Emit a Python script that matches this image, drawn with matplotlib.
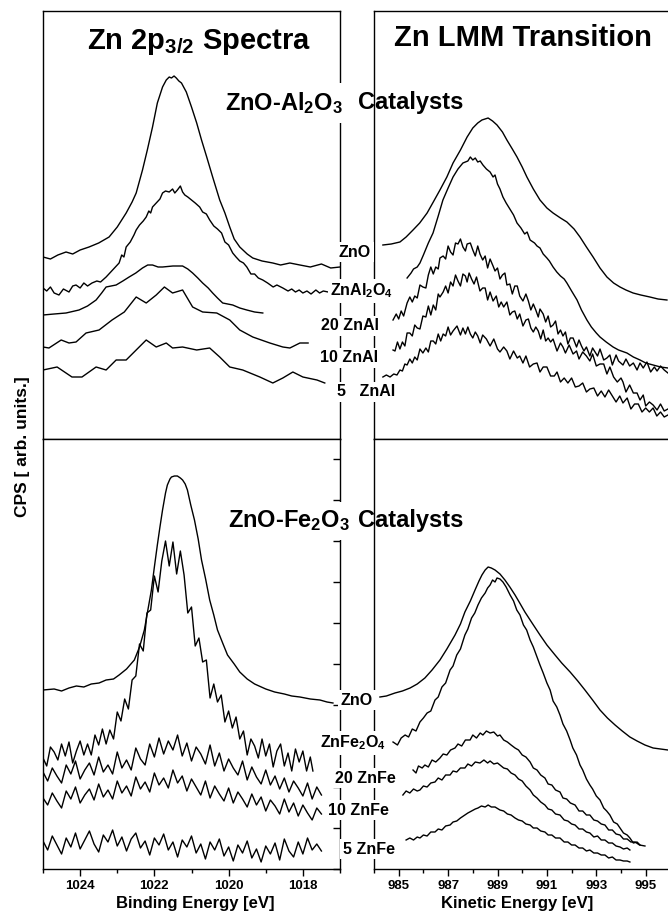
import matplotlib
matplotlib.use("Agg")
import matplotlib.pyplot as plt
from matplotlib.ticker import MultipleLocator, FixedLocator, NullLocator

plt.rcParams.update({
    "font.family": ["Liberation Sans", "DejaVu Sans"],
    "font.weight": "bold",
    "mathtext.fontset": "custom",
    "mathtext.rm": "Liberation Sans:bold",
    "mathtext.bf": "Liberation Sans:bold",
    "mathtext.it": "Liberation Sans:bold",
    "mathtext.default": "bf",
    "axes.linewidth": 1.0,
})

# ---------------- Zn 2p3/2, ZnO-Al2O3 series: (binding energy eV, counts) ----------------
al_2p_zno = [(1025.0, 182), (1024.8, 180), (1024.6, 184), (1024.38, 187), (1024.2, 185), (1024.0, 189),
             (1023.76, 192), (1023.5, 196), (1023.22, 202), (1023.0, 212), (1022.76, 226), (1022.6, 237),
             (1022.49, 246), (1022.32, 269), (1022.19, 289), (1022.05, 312), (1021.92, 336), (1021.78, 352),
             (1021.68, 359), (1021.6, 362), (1021.54, 361), (1021.47, 363), (1021.41, 361), (1021.34, 358),
             (1021.27, 356), (1021.14, 347), (1021.0, 332), (1020.86, 316), (1020.73, 299), (1020.59, 282),
             (1020.43, 262), (1020.24, 239), (1020.1, 226), (1019.97, 212), (1019.85, 200), (1019.7, 192),
             (1019.5, 185), (1019.35, 181), (1019.1, 178), (1018.81, 176), (1018.6, 174), (1018.35, 176),
             (1018.08, 174), (1017.8, 172), (1017.5, 175), (1017.25, 171), (1017.0, 172)]
al_2p_znal2o4 = [(1025.0, 151), (1024.9, 148), (1024.8, 152), (1024.7, 146), (1024.57, 144), (1024.45, 150),
                 (1024.3, 147), (1024.2, 153), (1024.11, 154), (1024.0, 151), (1023.9, 156), (1023.8, 153),
                 (1023.68, 156), (1023.55, 158), (1023.45, 157), (1023.3, 162), (1023.2, 166), (1023.1, 170),
                 (1022.95, 176), (1022.88, 184), (1022.82, 182), (1022.76, 192), (1022.65, 197), (1022.55, 204),
                 (1022.49, 209), (1022.4, 214), (1022.3, 218), (1022.22, 222), (1022.15, 228), (1022.1, 226),
                 (1022.05, 232), (1021.95, 236), (1021.85, 240), (1021.78, 246), (1021.7, 248), (1021.6, 247),
                 (1021.51, 250), (1021.45, 246), (1021.38, 249), (1021.3, 253), (1021.24, 247), (1021.18, 244),
                 (1021.1, 242), (1021.0, 239), (1020.9, 236), (1020.78, 232), (1020.7, 227), (1020.6, 225),
                 (1020.51, 219), (1020.4, 213), (1020.3, 210), (1020.19, 206), (1020.1, 197), (1020.0, 194),
                 (1019.89, 186), (1019.8, 182), (1019.7, 178), (1019.6, 176), (1019.51, 172), (1019.4, 165),
                 (1019.3, 165), (1019.2, 161), (1019.08, 159), (1018.95, 156), (1018.8, 152), (1018.7, 154),
                 (1018.54, 151), (1018.4, 148), (1018.3, 150), (1018.2, 147), (1018.1, 149), (1018.0, 146),
                 (1017.89, 148), (1017.78, 145), (1017.65, 149), (1017.55, 146), (1017.45, 148), (1017.32, 147)]
al_2p_20 = [(1025.0, 124), (1024.7, 125), (1024.38, 126), (1024.03, 129), (1023.8, 133), (1023.57, 139),
            (1023.42, 146), (1023.3, 152), (1023.03, 154), (1022.85, 158), (1022.68, 162), (1022.5, 166),
            (1022.32, 171), (1022.18, 174), (1022.05, 174), (1021.9, 172), (1021.78, 172), (1021.5, 173),
            (1021.24, 173), (1021.1, 170), (1020.97, 166), (1020.83, 161), (1020.7, 156), (1020.55, 151),
            (1020.43, 146), (1020.3, 141), (1020.16, 136), (1019.89, 134), (1019.7, 131), (1019.51, 129),
            (1019.3, 127), (1019.08, 126)]
al_2p_10 = [(1025.0, 92), (1024.84, 91), (1024.51, 99), (1024.3, 96), (1024.11, 97), (1023.84, 106),
            (1023.49, 109), (1023.14, 119), (1022.81, 127), (1022.49, 142), (1022.22, 136), (1021.95, 144),
            (1021.73, 152), (1021.51, 146), (1021.24, 149), (1020.97, 132), (1020.7, 127), (1020.32, 126),
            (1019.97, 119), (1019.7, 109), (1019.35, 102), (1018.89, 96), (1018.54, 92), (1018.35, 91),
            (1018.08, 96), (1017.86, 96)]
al_2p_5 = [(1025.0, 69), (1024.62, 72), (1024.22, 62), (1023.95, 62), (1023.57, 72), (1023.3, 69),
           (1023.03, 79), (1022.76, 79), (1022.49, 89), (1022.22, 99), (1021.95, 92), (1021.68, 96),
           (1021.51, 91), (1021.24, 92), (1020.86, 89), (1020.51, 91), (1020.24, 82), (1019.97, 72),
           (1019.62, 69), (1019.16, 62), (1018.81, 56), (1018.54, 61), (1018.27, 67), (1018.0, 62),
           (1017.62, 59), (1017.41, 56)]

# ---------------- Zn LMM, ZnO-Al2O3 series: (kinetic energy eV, counts) ----------------
al_lmm_zno = [(984.36, 194), (984.7, 195), (985.05, 197), (985.3, 202), (985.58, 209), (985.85, 216),
              (986.15, 226), (986.4, 237), (986.67, 249), (986.95, 262), (987.2, 276), (987.5, 289),
              (987.77, 302), (988.0, 311), (988.2, 316), (988.37, 319), (988.62, 321), (988.8, 318),
              (988.98, 314), (989.2, 307), (989.38, 299), (989.6, 290), (989.79, 282), (990.0, 272),
              (990.19, 262), (990.45, 250), (990.72, 239), (991.0, 231), (991.25, 226), (991.55, 221),
              (991.81, 217), (992.1, 210), (992.34, 202), (992.6, 192), (992.87, 182), (993.15, 171),
              (993.43, 162), (993.7, 156), (993.96, 152), (994.2, 149), (994.49, 146), (994.8, 144),
              (995.17, 142), (995.5, 140), (995.86, 139)]
al_lmm_znal2o4 = [(985.34, 161), (985.5, 166), (985.6, 170), (985.75, 172), (985.86, 176), (986.0, 184),
                  (986.2, 196), (986.39, 206), (986.6, 223), (986.79, 239), (987.0, 251), (987.2, 262),
                  (987.4, 270), (987.6, 276), (987.8, 278), (987.9, 282), (988.0, 279), (988.1, 281),
                  (988.2, 277), (988.3, 278), (988.41, 274), (988.55, 270), (988.7, 267), (988.82, 262),
                  (988.9, 264), (989.0, 255), (989.1, 250), (989.22, 242), (989.35, 236), (989.5, 230),
                  (989.65, 224), (989.79, 216), (989.95, 211), (990.1, 205), (990.2, 207), (990.32, 199),
                  (990.5, 196), (990.6, 193), (990.72, 191), (990.85, 185), (991.0, 181), (991.1, 178),
                  (991.25, 172), (991.4, 167), (991.55, 163), (991.7, 160), (991.81, 156), (992.0, 148),
                  (992.22, 139), (992.4, 129), (992.62, 119), (992.8, 112), (993.0, 106), (993.15, 102),
                  (993.4, 97), (993.68, 92), (993.9, 89), (994.24, 86), (994.5, 82), (994.77, 79),
                  (995.0, 76), (995.3, 74), (995.6, 72), (995.9, 71)]
al_lmm_20 = [(984.77, 119), (984.9, 125), (985.0, 120), (985.1, 128), (985.2, 123), (985.34, 136), (985.45, 142),
             (985.55, 137), (985.65, 143), (985.75, 141), (985.86, 154), (985.98, 152), (986.1, 151), (986.2, 164),
             (986.3, 172), (986.4, 165), (986.5, 172), (986.6, 170), (986.67, 181), (986.8, 183), (986.9, 180),
             (987.0, 193), (987.1, 187), (987.2, 184), (987.3, 196), (987.4, 195), (987.5, 200), (987.6, 192),
             (987.7, 188), (987.77, 195), (987.9, 196), (988.0, 189), (988.1, 183), (988.2, 193), (988.29, 185),
             (988.4, 179), (988.5, 183), (988.6, 171), (988.7, 180), (988.82, 173), (988.9, 168), (989.0, 171),
             (989.1, 160), (989.2, 164), (989.3, 166), (989.38, 154), (989.5, 155), (989.6, 145), (989.7, 153),
             (989.8, 153), (989.9, 143), (990.03, 138), (990.15, 145), (990.25, 138), (990.35, 129), (990.45, 135),
             (990.55, 129), (990.65, 122), (990.72, 130), (990.85, 125), (990.95, 117), (991.05, 123), (991.15, 112),
             (991.25, 114), (991.35, 118), (991.45, 105), (991.55, 109), (991.65, 103), (991.75, 107), (991.85, 95),
             (991.95, 101), (992.06, 101), (992.2, 92), (992.3, 99), (992.4, 93), (992.5, 88), (992.6, 92),
             (992.74, 83), (992.85, 91), (992.95, 87), (993.05, 83), (993.15, 90), (993.3, 79), (993.43, 81),
             (993.55, 84), (993.65, 74), (993.8, 84), (993.9, 78), (994.08, 74), (994.2, 80), (994.35, 73),
             (994.5, 76), (994.65, 69), (994.77, 76), (994.9, 71), (995.05, 77), (995.2, 67), (995.35, 72),
             (995.46, 68), (995.6, 73), (995.75, 69), (995.9, 66)]
al_lmm_10 = [(984.77, 89), (984.85, 88), (984.95, 97), (985.05, 90), (985.15, 97), (985.25, 93), (985.34, 106),
             (985.45, 106), (985.55, 103), (985.65, 114), (985.75, 111), (985.86, 110), (985.98, 123), (986.1, 122),
             (986.2, 133), (986.3, 124), (986.4, 134), (986.5, 129), (986.6, 145), (986.67, 142), (986.8, 147),
             (986.9, 153), (987.0, 146), (987.1, 157), (987.2, 153), (987.3, 164), (987.4, 158), (987.5, 153),
             (987.6, 165), (987.7, 163), (987.77, 157), (987.85, 166), (987.95, 160), (988.05, 155), (988.15, 162),
             (988.29, 148), (988.4, 151), (988.5, 151), (988.6, 139), (988.7, 147), (988.82, 138), (988.95, 143),
             (989.05, 132), (989.15, 137), (989.25, 132), (989.38, 137), (989.5, 124), (989.6, 127), (989.7, 128),
             (989.8, 120), (989.9, 125), (990.03, 113), (990.15, 119), (990.25, 120), (990.35, 111), (990.45, 107),
             (990.55, 112), (990.65, 108), (990.75, 100), (990.85, 109), (990.95, 98), (991.05, 101), (991.15, 97),
             (991.25, 100), (991.41, 88), (991.55, 96), (991.65, 92), (991.75, 86), (991.9, 94), (992.06, 85),
             (992.2, 88), (992.3, 80), (992.45, 87), (992.6, 83), (992.74, 78), (992.85, 85), (993.0, 73),
             (993.15, 75), (993.3, 75), (993.43, 65), (993.55, 72), (993.7, 62), (993.85, 57), (994.0, 61),
             (994.08, 57), (994.2, 47), (994.35, 54), (994.5, 46), (994.65, 46), (994.77, 39), (994.9, 44),
             (995.0, 33), (995.15, 37), (995.3, 34), (995.46, 29), (995.6, 35), (995.75, 28), (995.9, 30)]
al_lmm_5 = [(984.36, 62), (984.5, 64), (984.65, 62), (984.8, 65), (984.93, 64), (985.05, 69), (985.15, 68),
            (985.25, 75), (985.34, 74), (985.45, 80), (985.55, 76), (985.65, 82), (985.75, 79), (985.86, 90),
            (985.98, 86), (986.1, 91), (986.2, 87), (986.3, 98), (986.4, 98), (986.5, 95), (986.6, 105),
            (986.7, 98), (986.8, 105), (986.9, 103), (987.0, 112), (987.1, 104), (987.2, 108), (987.36, 113),
            (987.5, 104), (987.6, 111), (987.7, 105), (987.8, 112), (987.9, 105), (988.0, 101), (988.1, 107),
            (988.2, 103), (988.3, 96), (988.4, 104), (988.55, 100), (988.7, 93), (988.85, 100), (989.0, 90),
            (989.1, 87), (989.25, 92), (989.38, 88), (989.5, 80), (989.65, 88), (989.8, 81), (989.9, 83),
            (990.03, 76), (990.15, 83), (990.3, 72), (990.45, 75), (990.6, 76), (990.72, 67), (990.85, 72),
            (991.0, 72), (991.15, 63), (991.3, 63), (991.41, 67), (991.55, 57), (991.7, 61), (991.85, 56),
            (992.0, 61), (992.15, 52), (992.3, 53), (992.45, 56), (992.6, 47), (992.74, 50), (992.9, 51),
            (993.05, 43), (993.2, 48), (993.35, 42), (993.5, 49), (993.65, 43), (993.8, 37), (993.95, 43),
            (994.08, 36), (994.25, 41), (994.4, 30), (994.55, 35), (994.7, 35), (994.85, 27), (995.0, 31),
            (995.15, 27), (995.3, 31), (995.45, 23), (995.6, 27), (995.75, 22), (995.9, 24)]

# ---------------- Zn 2p3/2, ZnO-Fe2O3 series ----------------
fe_2p_zno = [(1025.0, 179), (1024.7, 180), (1024.5, 178), (1024.3, 181), (1024.1, 183), (1023.9, 182),
             (1023.7, 185), (1023.49, 186), (1023.3, 189), (1023.1, 190), (1022.95, 194), (1022.75, 200),
             (1022.54, 209), (1022.4, 222), (1022.27, 239), (1022.18, 258), (1022.08, 279), (1022.0, 302),
             (1021.92, 324), (1021.85, 342), (1021.78, 359), (1021.7, 376), (1021.65, 384), (1021.58, 390),
             (1021.54, 392), (1021.46, 393), (1021.38, 393), (1021.3, 391), (1021.24, 389), (1021.17, 385),
             (1021.11, 379), (1021.02, 364), (1020.92, 349), (1020.82, 330), (1020.73, 309), (1020.62, 290),
             (1020.51, 269), (1020.4, 254), (1020.3, 239), (1020.15, 225), (1020.03, 214), (1019.85, 205),
             (1019.7, 197), (1019.5, 190), (1019.3, 185), (1019.0, 180), (1018.76, 177), (1018.5, 175),
             (1018.3, 173), (1018.08, 172), (1017.8, 170), (1017.54, 169), (1017.35, 167), (1017.19, 166)]
fe_2p_znfe2o4 = [(1025.0, 111), (1024.9, 103), (1024.8, 122), (1024.7, 117), (1024.6, 109), (1024.5, 125),
                 (1024.4, 113), (1024.3, 127), (1024.2, 106), (1024.1, 118), (1024.0, 128), (1023.9, 114),
                 (1023.8, 125), (1023.7, 114), (1023.6, 134), (1023.5, 124), (1023.4, 140), (1023.3, 125),
                 (1023.2, 139), (1023.1, 130), (1023.0, 157), (1022.9, 148), (1022.8, 170), (1022.7, 160),
                 (1022.6, 189), (1022.5, 193), (1022.4, 225), (1022.3, 218), (1022.2, 256), (1022.1, 259),
                 (1022.0, 293), (1021.9, 277), (1021.8, 308), (1021.7, 328), (1021.6, 303), (1021.5, 327),
                 (1021.4, 295), (1021.3, 318), (1021.2, 294), (1021.1, 256), (1021.0, 262), (1020.9, 223),
                 (1020.8, 231), (1020.7, 207), (1020.6, 209), (1020.5, 171), (1020.4, 185), (1020.3, 167),
                 (1020.2, 174), (1020.1, 147), (1020.0, 158), (1019.9, 141), (1019.8, 152), (1019.7, 130),
                 (1019.6, 138), (1019.5, 114), (1019.4, 130), (1019.3, 123), (1019.2, 111), (1019.1, 130),
                 (1019.0, 113), (1018.9, 125), (1018.8, 102), (1018.7, 118), (1018.6, 125), (1018.5, 103),
                 (1018.4, 116), (1018.3, 98), (1018.2, 120), (1018.1, 107), (1018.0, 118), (1017.9, 98),
                 (1017.8, 112), (1017.73, 98)]
fe_2p_20 = [(1025.0, 97), (1024.875, 88), (1024.75, 101), (1024.625, 93), (1024.5, 86), (1024.375, 104),
            (1024.25, 95), (1024.125, 108), (1024.0, 90), (1023.875, 99), (1023.75, 106), (1023.625, 94),
            (1023.5, 112), (1023.375, 97), (1023.25, 104), (1023.125, 95), (1023.0, 117), (1022.875, 101),
            (1022.75, 109), (1022.625, 99), (1022.5, 121), (1022.375, 110), (1022.25, 104), (1022.125, 125),
            (1022.0, 112), (1021.875, 131), (1021.75, 115), (1021.625, 128), (1021.5, 119), (1021.375, 134),
            (1021.25, 113), (1021.125, 126), (1021.0, 108), (1020.875, 122), (1020.75, 115), (1020.625, 105),
            (1020.5, 124), (1020.375, 103), (1020.25, 116), (1020.125, 98), (1020.0, 110), (1019.875, 101),
            (1019.75, 94), (1019.625, 108), (1019.5, 89), (1019.375, 102), (1019.25, 92), (1019.125, 85),
            (1019.0, 99), (1018.875, 84), (1018.75, 93), (1018.625, 80), (1018.5, 91), (1018.375, 77),
            (1018.25, 88), (1018.125, 81), (1018.0, 73), (1017.875, 86), (1017.75, 70), (1017.625, 82),
            (1017.5, 74)]
fe_2p_10 = [(1025.0, 71), (1024.875, 64), (1024.75, 76), (1024.625, 68), (1024.5, 61), (1024.375, 78),
            (1024.25, 70), (1024.125, 82), (1024.0, 66), (1023.875, 74), (1023.75, 80), (1023.625, 69),
            (1023.5, 85), (1023.375, 72), (1023.25, 79), (1023.125, 70), (1023.0, 88), (1022.875, 76),
            (1022.75, 83), (1022.625, 73), (1022.5, 92), (1022.375, 80), (1022.25, 87), (1022.125, 77),
            (1022.0, 96), (1021.875, 84), (1021.75, 91), (1021.625, 81), (1021.5, 99), (1021.375, 86),
            (1021.25, 93), (1021.125, 78), (1021.0, 90), (1020.875, 82), (1020.75, 74), (1020.625, 88),
            (1020.5, 71), (1020.375, 83), (1020.25, 75), (1020.125, 68), (1020.0, 81), (1019.875, 66),
            (1019.75, 77), (1019.625, 70), (1019.5, 62), (1019.375, 75), (1019.25, 64), (1019.125, 72),
            (1019.0, 58), (1018.875, 69), (1018.75, 63), (1018.625, 55), (1018.5, 70), (1018.375, 57),
            (1018.25, 66), (1018.125, 53), (1018.0, 64), (1017.875, 56), (1017.75, 49), (1017.625, 61),
            (1017.5, 55)]
fe_2p_5 = [(1025.0, 28), (1024.875, 19), (1024.75, 33), (1024.625, 24), (1024.5, 15), (1024.375, 31),
           (1024.25, 22), (1024.125, 36), (1024.0, 20), (1023.875, 29), (1023.75, 38), (1023.625, 25),
           (1023.5, 17), (1023.375, 34), (1023.25, 27), (1023.125, 39), (1023.0, 23), (1022.875, 32),
           (1022.75, 18), (1022.625, 30), (1022.5, 36), (1022.375, 21), (1022.25, 28), (1022.125, 14),
           (1022.0, 31), (1021.875, 24), (1021.75, 35), (1021.625, 19), (1021.5, 27), (1021.375, 12),
           (1021.25, 29), (1021.125, 22), (1021.0, 33), (1020.875, 16), (1020.75, 25), (1020.625, 10),
           (1020.5, 27), (1020.375, 19), (1020.25, 30), (1020.125, 13), (1020.0, 22), (1019.875, 8),
           (1019.75, 24), (1019.625, 16), (1019.5, 28), (1019.375, 11), (1019.25, 20), (1019.125, 7),
           (1019.0, 23), (1018.875, 15), (1018.75, 26), (1018.625, 9), (1018.5, 30), (1018.375, 18),
           (1018.25, 12), (1018.125, 27), (1018.0, 15), (1017.875, 31), (1017.75, 19), (1017.625, 25),
           (1017.5, 18)]

# ---------------- Zn LMM, ZnO-Fe2O3 series ----------------
fe_lmm_zno = [(984.24, 172), (984.5, 173), (984.85, 176), (985.15, 178), (985.46, 181), (985.75, 185),
              (986.06, 191), (986.35, 199), (986.67, 209), (986.95, 220), (987.28, 234), (987.5, 245),
              (987.68, 257), (987.9, 268), (988.09, 279), (988.25, 288), (988.37, 294), (988.5, 299),
              (988.62, 302), (988.75, 301), (988.9, 299), (989.1, 295), (989.3, 289), (989.5, 282),
              (989.71, 274), (989.9, 266), (990.11, 257), (990.4, 246), (990.72, 234), (991.0, 224),
              (991.33, 214), (991.6, 206), (991.94, 197), (992.25, 188), (992.54, 179), (992.85, 169),
              (993.15, 159), (993.45, 151), (993.76, 144), (994.05, 138), (994.36, 132), (994.65, 128),
              (994.97, 124), (995.3, 121), (995.6, 120), (995.9, 119)]
fe_lmm_znfe2o4 = [(984.77, 127), (984.95, 124), (985.1, 131), (985.26, 134), (985.4, 132), (985.55, 140),
                  (985.7, 138), (985.86, 147), (986.0, 151), (986.15, 156), (986.3, 158), (986.47, 169),
                  (986.6, 172), (986.75, 182), (986.9, 186), (987.08, 199), (987.2, 203), (987.35, 214),
                  (987.5, 220), (987.68, 234), (987.8, 240), (987.95, 251), (988.08, 256), (988.21, 264),
                  (988.35, 271), (988.5, 276), (988.6, 281), (988.7, 284), (988.8, 289), (988.9, 287),
                  (988.98, 291), (989.1, 290), (989.22, 287), (989.35, 282), (989.51, 274), (989.65, 268),
                  (989.78, 259), (989.91, 254), (990.05, 244), (990.18, 239), (990.32, 229), (990.45, 222),
                  (990.6, 212), (990.72, 204), (990.85, 196), (991.0, 186), (991.13, 179), (991.25, 168),
                  (991.4, 162), (991.53, 154), (991.65, 145), (991.8, 138), (991.94, 129), (992.05, 121),
                  (992.2, 114), (992.34, 104), (992.45, 99), (992.6, 90), (992.74, 84), (992.85, 80),
                  (993.0, 73), (993.15, 69), (993.3, 61), (993.42, 58), (993.55, 54), (993.7, 47),
                  (993.85, 45), (993.96, 41), (994.1, 36), (994.25, 34), (994.36, 31), (994.5, 26),
                  (994.65, 27), (994.77, 24)]
fe_lmm_20 = [(985.58, 99), (985.7, 96), (985.8, 103), (985.95, 101), (986.06, 104), (986.2, 102), (986.35, 109),
             (986.5, 107), (986.67, 111), (986.8, 115), (986.95, 114), (987.1, 119), (987.28, 121), (987.4, 125),
             (987.55, 123), (987.7, 129), (987.89, 129), (988.0, 134), (988.15, 131), (988.3, 136), (988.41, 134),
             (988.55, 138), (988.7, 136), (988.85, 137), (989.0, 133), (989.1, 134), (989.25, 129), (989.4, 127),
             (989.55, 124), (989.71, 121), (989.85, 119), (990.0, 114), (990.15, 112), (990.32, 107), (990.45, 101),
             (990.6, 99), (990.75, 94), (990.92, 91), (991.05, 85), (991.2, 84), (991.35, 79), (991.53, 77),
             (991.65, 71), (991.8, 70), (991.95, 66), (992.14, 64), (992.3, 58), (992.45, 58), (992.6, 54),
             (992.74, 54), (992.9, 49), (993.05, 48), (993.2, 45), (993.35, 44), (993.5, 39), (993.65, 39),
             (993.8, 35), (993.96, 34), (994.1, 30), (994.25, 30), (994.4, 27), (994.57, 27), (994.75, 24),
             (994.97, 23)]
fe_lmm_10 = [(985.17, 74), (985.3, 78), (985.45, 76), (985.6, 80), (985.75, 78), (985.86, 79), (986.0, 83),
             (986.15, 82), (986.3, 86), (986.47, 87), (986.6, 91), (986.75, 89), (986.9, 94), (987.08, 94),
             (987.2, 98), (987.35, 97), (987.5, 101), (987.68, 101), (987.8, 105), (987.95, 103), (988.1, 107),
             (988.29, 106), (988.45, 109), (988.6, 106), (988.7, 108), (988.85, 105), (989.0, 106), (989.1, 104),
             (989.25, 101), (989.4, 100), (989.55, 96), (989.71, 94), (989.85, 90), (990.0, 88), (990.15, 83),
             (990.32, 79), (990.45, 74), (990.6, 71), (990.75, 67), (990.92, 64), (991.05, 60), (991.2, 59),
             (991.35, 55), (991.53, 54), (991.7, 49), (991.85, 48), (992.0, 45), (992.14, 44), (992.3, 40),
             (992.45, 40), (992.6, 37), (992.74, 36), (992.9, 32), (993.05, 33), (993.2, 29), (993.35, 29),
             (993.5, 26), (993.65, 26), (993.8, 23), (993.96, 22), (994.1, 20), (994.25, 21), (994.36, 19)]
fe_lmm_5 = [(985.3, 29), (985.45, 31), (985.6, 29), (985.75, 32), (985.86, 31), (986.0, 34), (986.15, 33),
            (986.3, 37), (986.47, 37), (986.6, 40), (986.75, 39), (986.9, 43), (987.08, 44), (987.2, 47),
            (987.35, 48), (987.5, 51), (987.68, 54), (987.8, 56), (987.95, 58), (988.1, 60), (988.21, 61),
            (988.35, 63), (988.5, 62), (988.62, 64), (988.75, 62), (988.9, 62), (989.1, 59), (989.25, 58),
            (989.4, 55), (989.55, 54), (989.71, 51), (989.85, 49), (990.0, 48), (990.15, 45), (990.32, 44),
            (990.45, 41), (990.6, 41), (990.75, 38), (990.92, 37), (991.05, 34), (991.2, 34), (991.35, 31),
            (991.53, 31), (991.7, 27), (991.85, 27), (992.0, 24), (992.14, 24), (992.3, 21), (992.45, 21),
            (992.6, 18), (992.74, 19), (992.9, 16), (993.05, 16), (993.2, 14), (993.35, 14), (993.5, 11),
            (993.65, 12), (993.8, 9), (993.96, 9), (994.1, 8), (994.25, 8), (994.36, 7)]

# tick values and sample labels
be_major = [1024, 1022, 1020, 1018]
be_minor = [1025, 1023, 1021, 1019, 1017]
ke_major = [985, 987, 989, 991, 993, 995]
ke_minor = [984, 986, 988, 990, 992, 994, 996]
al_labels = ["ZnO", "ZnAl$_2$O$_4$", "20 ZnAl", "10 ZnAl", "5   ZnAl"]
fe_labels = ["ZnO", "ZnFe$_2$O$_4$", "20 ZnFe", "10 ZnFe", "5 ZnFe"]

# ---------------- figure layout (pixel boxes) ----------------
W, H = 668, 913
fig = plt.figure(figsize=(W / 100, H / 100), dpi=100)


def box(x0, y0, x1, y1):
    return [x0 / W, 1 - y1 / H, (x1 - x0) / W, (y1 - y0) / H]


def fx(px):
    return px / W


def fy(py):
    return 1 - py / H


ax_tl = fig.add_axes(box(43, 11, 340, 439))
ax_tr = fig.add_axes(box(374, 11, 670.4, 439))
ax_bl = fig.add_axes(box(43, 439, 340, 869))
ax_br = fig.add_axes(box(374, 439, 670.4, 869))

for ax, series in [(ax_tl, [al_2p_zno, al_2p_znal2o4, al_2p_20, al_2p_10, al_2p_5]),
                   (ax_tr, [al_lmm_zno, al_lmm_znal2o4, al_lmm_20, al_lmm_10, al_lmm_5]),
                   (ax_bl, [fe_2p_zno, fe_2p_znfe2o4, fe_2p_20, fe_2p_10, fe_2p_5]),
                   (ax_br, [fe_lmm_zno, fe_lmm_znfe2o4, fe_lmm_20, fe_lmm_10, fe_lmm_5])]:
    for s in series:
        xs = [p[0] for p in s]
        ys = [p[1] for p in s]
        ax.plot(xs, ys, color="black", lw=1.0)

for ax in (ax_tl, ax_bl):
    ax.set_xlim(1025, 1017)
for ax in (ax_tr, ax_br):
    ax.set_xlim(984, 996)
ax_tl.set_ylim(0, 428)
ax_tr.set_ylim(0, 428)
ax_bl.set_ylim(0, 430)
ax_br.set_ylim(0, 430)

for ax in (ax_tl, ax_tr, ax_bl, ax_br):
    ax.yaxis.set_major_locator(NullLocator())
    ax.tick_params(axis="x", which="both", direction="out", top=False, width=1.0)
    ax.tick_params(axis="x", which="major", length=5, labelsize=9.5, pad=3)
    ax.tick_params(axis="x", which="minor", length=3)

ax_tl.xaxis.set_major_locator(NullLocator())
ax_tl.xaxis.set_minor_locator(NullLocator())
ax_tr.xaxis.set_major_locator(FixedLocator(ke_major))
ax_tr.xaxis.set_minor_locator(NullLocator())
ax_tr.tick_params(axis="x", labelbottom=False)

ax_bl.xaxis.set_major_locator(FixedLocator(be_major))
ax_bl.xaxis.set_minor_locator(FixedLocator(be_minor))
ax_br.xaxis.set_major_locator(FixedLocator(ke_major))
ax_br.xaxis.set_minor_locator(FixedLocator(ke_minor))

# inward ticks along the right edge of the lower binding-energy panel
ax_bl.yaxis.set_major_locator(MultipleLocator(41))
ax_bl.tick_params(axis="y", which="major", left=False, right=True, labelleft=False,
                  direction="in", length=5, width=1.0)

for ax in (ax_bl, ax_br):
    for lab in ax.get_xticklabels():
        lab.set_fontweight("bold")

# titles
fig.text(fx(199), fy(42), "Zn 2p$_{3/2}$ Spectra", fontsize=21, fontweight="bold",
         ha="center", va="center")
fig.text(fx(523), fy(38), "Zn LMM Transition", fontsize=21, fontweight="bold",
         ha="center", va="center")

white = dict(facecolor="white", edgecolor="none", pad=5)
fig.text(fx(225), fy(103), "ZnO-Al$_2$O$_3$", fontsize=17, fontweight="bold",
         ha="left", va="center", bbox=white)
fig.text(fx(358), fy(102), "Catalysts", fontsize=17, fontweight="bold", ha="left", va="center")
fig.text(fx(228), fy(521), "ZnO-Fe$_2$O$_3$", fontsize=17, fontweight="bold",
         ha="left", va="center", bbox=white)
fig.text(fx(358), fy(520), "Catalysts", fontsize=17, fontweight="bold", ha="left", va="center")

# sample labels between the panels
lab_box = dict(facecolor="white", edgecolor="none", pad=2)
al_pos = [(355, 252), (362, 291), (350, 326), (349, 358), (366, 392)]
fe_pos = [(357, 700), (353, 743), (365, 778), (358, 810), (369, 849)]
for text, (px, py) in zip(al_labels + fe_labels, al_pos + fe_pos):
    fig.text(fx(px), fy(py), text, fontsize=11.5, fontweight="bold",
             ha="center", va="center", bbox=lab_box)

# axis labels
fig.text(fx(22), fy(447), "CPS [ arb. units.]", fontsize=12.5, fontweight="bold",
         rotation=90, ha="center", va="center")
fig.text(fx(195), fy(903), "Binding Energy [eV]", fontsize=12, fontweight="bold",
         ha="center", va="center")
fig.text(fx(517), fy(903), "Kinetic Energy [eV]", fontsize=12, fontweight="bold",
         ha="center", va="center")

fig.savefig("out.png", dpi=100)
